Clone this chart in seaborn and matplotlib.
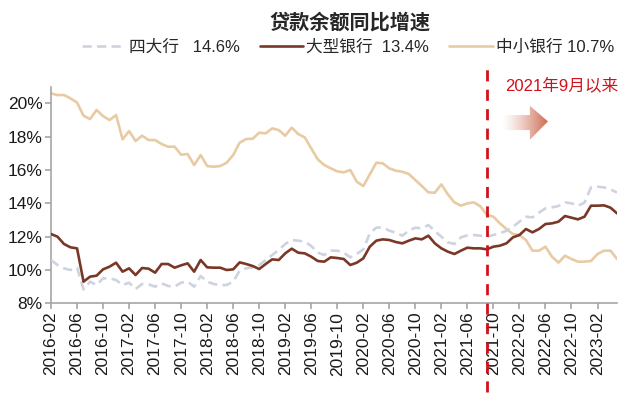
import matplotlib
matplotlib.use("Agg")
import matplotlib.pyplot as plt
from matplotlib.patches import Polygon
import numpy as np
import pandas as pd
import seaborn as sns

# Monthly labels, 2016-02 .. 2023-05
months = pd.date_range("2016-02-01", "2023-05-01", freq="MS").strftime("%Y-%m").tolist()

# 四大行 (%)
big4 = [10.6, 10.3, 10.1, 10.0, 10.14, 8.84, 9.3, 9.1, 9.5, 9.5, 9.4, 9.1, 9.24, 8.86, 9.16, 9.14,
        9.0, 9.2, 9.04, 9.0, 9.24, 9.3, 9.0, 9.64, 9.3, 9.16, 9.1, 9.1, 9.3, 9.96, 10.1, 10.16,
        10.3, 10.6, 10.9, 11.2, 11.56, 11.8, 11.76, 11.7, 11.44, 11.04, 10.9, 11.16, 11.16, 11.04,
        10.76, 10.96, 11.24, 12.2, 12.54, 12.56, 12.36, 12.24, 12.06, 12.36, 12.54, 12.5, 12.7,
        12.34, 12.0, 11.66, 11.56, 11.96, 12.08, 12.1, 12.06, 12.0, 12.1, 12.2, 12.36, 12.6, 12.9,
        13.2, 13.16, 13.44, 13.7, 13.76, 13.84, 14.06, 14.0, 13.86, 14.04, 14.96, 15.0, 14.96,
        14.84, 14.65]

# 大型银行 (%)
large = [12.16, 12.0, 11.56, 11.36, 11.3, 9.3, 9.6, 9.66, 10.04, 10.2, 10.44, 9.9, 10.1, 9.7, 10.12,
         10.08, 9.84, 10.36, 10.36, 10.14, 10.28, 10.4, 9.9, 10.6, 10.16, 10.14, 10.14, 10.0, 10.04,
         10.46, 10.36, 10.24, 10.06, 10.36, 10.64, 10.6, 11.0, 11.28, 11.04, 11.0, 10.8, 10.54, 10.5,
         10.76, 10.72, 10.66, 10.3, 10.44, 10.7, 11.4, 11.76, 11.84, 11.8, 11.68, 11.6, 11.76, 11.9,
         11.84, 12.06, 11.6, 11.3, 11.1, 10.96, 11.16, 11.34, 11.3, 11.3, 11.24, 11.4, 11.46, 11.6,
         11.96, 12.1, 12.46, 12.26, 12.46, 12.76, 12.8, 12.9, 13.24, 13.14, 13.04, 13.2, 13.86, 13.86,
         13.88, 13.74, 13.4]

# 中小银行 (%)
small = [20.6, 20.5, 20.5, 20.3, 20.05, 19.26, 19.06, 19.6, 19.24, 19.0, 19.3, 17.84, 18.34, 17.74,
         18.06, 17.8, 17.8, 17.56, 17.4, 17.4, 16.92, 16.96, 16.3, 16.9, 16.24, 16.2, 16.24, 16.44,
         16.9, 17.64, 17.86, 17.88, 18.24, 18.2, 18.5, 18.4, 18.06, 18.54, 18.16, 17.96, 17.3, 16.64,
         16.3, 16.1, 15.92, 15.86, 16.0, 15.3, 15.04, 15.74, 16.44, 16.4, 16.1, 15.96, 15.9, 15.76,
         15.4, 15.04, 14.66, 14.64, 15.14, 14.54, 14.06, 13.86, 14.0, 14.06, 13.82, 13.3, 13.2, 12.8,
         12.46, 12.16, 12.1, 11.8, 11.16, 11.16, 11.4, 10.8, 10.44, 10.86, 10.66, 10.5, 10.5, 10.54,
         10.96, 11.16, 11.16, 10.66]

legend_labels = ["四大行   14.6%", "大型银行  13.4%", "中小银行 10.7%"]
colors = ["#CED3E0", "#7A3727", "#E8CBA3"]
marker_month = "2021-09"

df = pd.DataFrame({"idx": np.arange(len(months)), "month": months,
                   "big4": big4, "large": large, "small": small})

sns.set_style("ticks")
plt.rcParams["font.family"] = ["Liberation Sans", "Noto Sans CJK SC", "DejaVu Sans"]

fig = plt.figure(figsize=(6.4, 3.96), dpi=100)
ax = fig.add_axes([0.0797, 0.234, 0.8844, 0.547])

sns.lineplot(data=df, x="idx", y="small", color=colors[2], lw=1.9, ax=ax, zorder=2)
sns.lineplot(data=df, x="idx", y="big4", color=colors[0], lw=1.9, ax=ax, zorder=3,
             dashes=False, linestyle=(0, (3.5, 2)))
sns.lineplot(data=df, x="idx", y="large", color=colors[1], lw=1.9, ax=ax, zorder=4)

ax.set_xlim(0, len(months) - 1)
ax.set_ylim(8, 21)
ax.set_yticks(range(8, 21, 2))
ax.set_yticklabels([f"{v}%" for v in range(8, 21, 2)], fontsize=12.5)
ax.set_xticks(df["idx"][::4])
ax.set_xticklabels(df["month"][::4], rotation=90, fontsize=12.5)
ax.set_xlabel("")
ax.set_ylabel("")
sns.despine(ax=ax)
for s in ["left", "bottom"]:
    ax.spines[s].set_color("#A6A6A6")
    ax.spines[s].set_linewidth(1.2)
ax.tick_params(colors="#A6A6A6", labelcolor="#1a1a1a", length=4, width=1.2, pad=2)

# red dashed marker line
xv = months.index(marker_month)
ax.axvline(xv, ymin=-0.41, ymax=1.115, color="#D0121B", lw=2, ls=(0, (4, 3)),
           clip_on=False, zorder=5)
ax.text(0.903, 1.008, "2021年9月以来", transform=ax.transAxes, color="#D0121B",
        fontsize=12, ha="center", va="center")

# gradient arrow
arrow_pts = [(0.796, 0.80), (0.846, 0.80), (0.846, 0.755), (0.878, 0.84),
             (0.846, 0.912), (0.846, 0.869), (0.796, 0.869)]
poly = Polygon(arrow_pts, closed=True, transform=ax.transAxes, fc="none", ec="none")
ax.add_patch(poly)
grad = np.zeros((2, 256, 4))
grad[..., :3] = matplotlib.colors.to_rgb("#CB684E")
grad[..., 3] = np.linspace(0, 1, 256) ** 1.3
im = ax.imshow(grad, extent=(0.796, 0.878, 0.755, 0.912), transform=ax.transAxes,
               aspect="auto", interpolation="bilinear", zorder=6)
im.set_clip_path(poly)
ax.set_xlim(0, len(months) - 1)
ax.set_ylim(8, 21)

handles = ax.get_lines()[:3]
h = [handles[1], handles[2], handles[0]]
fig.legend(h, legend_labels, loc="center", bbox_to_anchor=(0.544, 0.88), ncol=3,
           frameon=False, fontsize=12, handlelength=2.6, handletextpad=0.2,
           columnspacing=1.2, labelcolor="#262626")

fig.text(0.547, 0.944, "贷款余额同比增速", ha="center", va="center",
         fontsize=14.5, fontweight="bold", color="#262626")

plt.savefig("out.png", dpi=100)
